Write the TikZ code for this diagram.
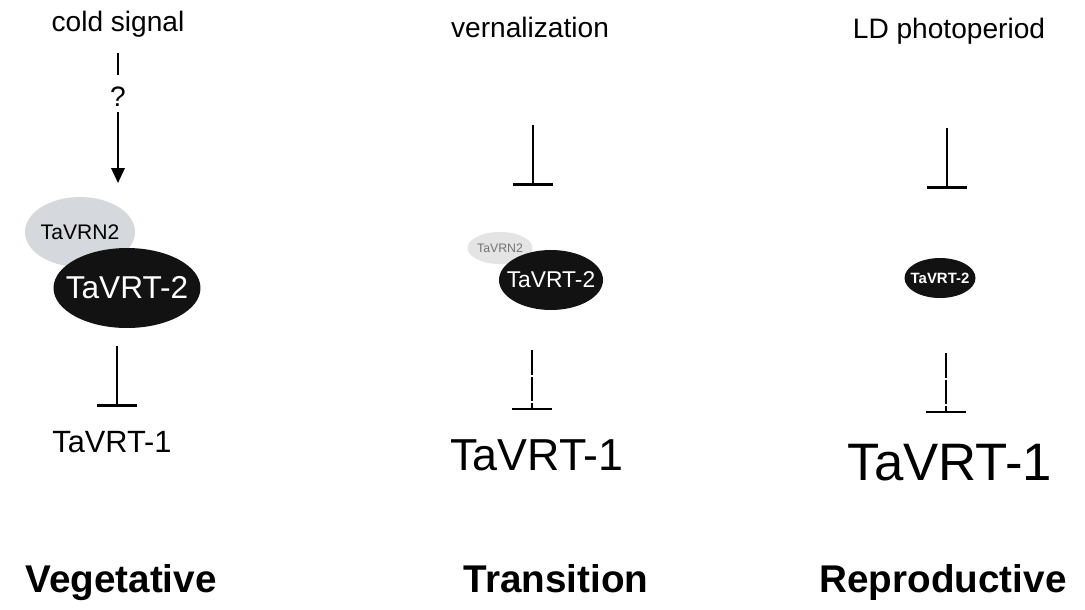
\documentclass[tikz,border=0pt]{standalone}
\usepackage{fontspec}
\setmainfont{Liberation Sans}
\usetikzlibrary{positioning}
\usetikzlibrary{shapes.geometric}
\usetikzlibrary{arrows.meta}

\definecolor{vrngrey}{RGB}{213,217,221}
\definecolor{vrnpale}{RGB}{228,228,228}

\begin{document}
\begin{tikzpicture}[x=0.02cm,y=-0.02cm,
        signal/.style={anchor=base,font=\fontsize{16}{18}\selectfont},
        stage/.style={anchor=base,font=\bfseries\fontsize{22}{24}\selectfont},
        target/.style={anchor=base},
        vrt/.style={ellipse,fill=black!93,text=white,inner sep=0pt},
        vrn/.style={ellipse,inner sep=0pt},
        inhib/.style={line width=1.2pt,-{Bar[width=0.8cm,line width=1.5pt]}},
        weak/.style={line width=0.9pt,dash pattern=on 14pt off 1.2pt,-{Bar[width=0.8cm,line width=1.3pt]}},
        arr/.style={line width=1.2pt,-{Triangle[length=0.3cm,width=0.27cm]}}
        ]
    \useasboundingbox (0,0) rectangle (1085,609);

    % vegetative
    \node (cold) [signal] at (118,31) {cold signal};
    \node (q) [signal] at (118,106) {?};
    \draw[line width=1.2pt,shorten <=0.2cm,shorten >=0.1cm] (cold.south) -- (q.north);
    \coordinate (tipa) at (118,183);
    \draw[arr] (q) -- (tipa);
    \node (vrn2a) [vrn,fill=vrngrey,minimum width=2.2cm,minimum height=1.4cm,
        font=\fontsize{12}{14}\selectfont] at (80,232) {\makebox[0pt]{TaVRN2}};
    \node (vrt2a) [vrt,minimum width=2.94cm,minimum height=1.6cm,
        font=\fontsize{18}{20}\selectfont] at (127,288) {\makebox[0pt]{TaVRT-2}};
    \coordinate (a1) at (117,346);
    \coordinate (a2) at (117,407);
    \draw[inhib] (a1) -- (a2);
    \node (t1a) [target,font=\fontsize{17.5}{19}\selectfont] at (112,452) {TaVRT-1};
    \node (sa) [stage] at (121,592) {Vegetative};

    % transition
    \node (vern) [signal] at (530,37) {vernalization};
    \coordinate (b1) at (533,125);
    \coordinate (b2) at (533,186);
    \draw[inhib] (b1) -- (b2);
    \node (vrn2b) [vrn,fill=vrnpale,minimum width=1.3cm,minimum height=0.64cm,
        text=black!55,font=\fontsize{7}{8}\selectfont] at (500,248) {\makebox[0pt]{TaVRN2}};
    \node (vrt2b) [vrt,minimum width=2.08cm,minimum height=1.2cm,
        font=\fontsize{13}{15}\selectfont] at (551,280) {\makebox[0pt]{TaVRT-2}};
    \coordinate (b3) at (532,350);
    \coordinate (b4) at (532,410);
    \draw[weak] (b3) -- (b4);
    \node (t1b) [target,font=\fontsize{25.5}{28}\selectfont] at (537,470) {TaVRT-1};
    \node (sb) [stage] at (556,592) {Transition};

    % reproductive
    \node (ld) [signal] at (949,38) {LD photoperiod};
    \coordinate (c1) at (947,128);
    \coordinate (c2) at (947,189);
    \draw[inhib] (c1) -- (c2);
    \node (vrt2c) [vrt,minimum width=1.42cm,minimum height=0.8cm,
        font=\bfseries\fontsize{8.5}{10}\selectfont] at (940,278) {\makebox[0pt]{TaVRT-2}};
    \coordinate (c3) at (946,353);
    \coordinate (c4) at (946,413);
    \draw[weak] (c3) -- (c4);
    \node (t1c) [target,font=\fontsize{30}{33}\selectfont] at (950,480) {TaVRT-1};
    \node (sc) [stage] at (943,592) {Reproductive};
\end{tikzpicture}
\end{document}
